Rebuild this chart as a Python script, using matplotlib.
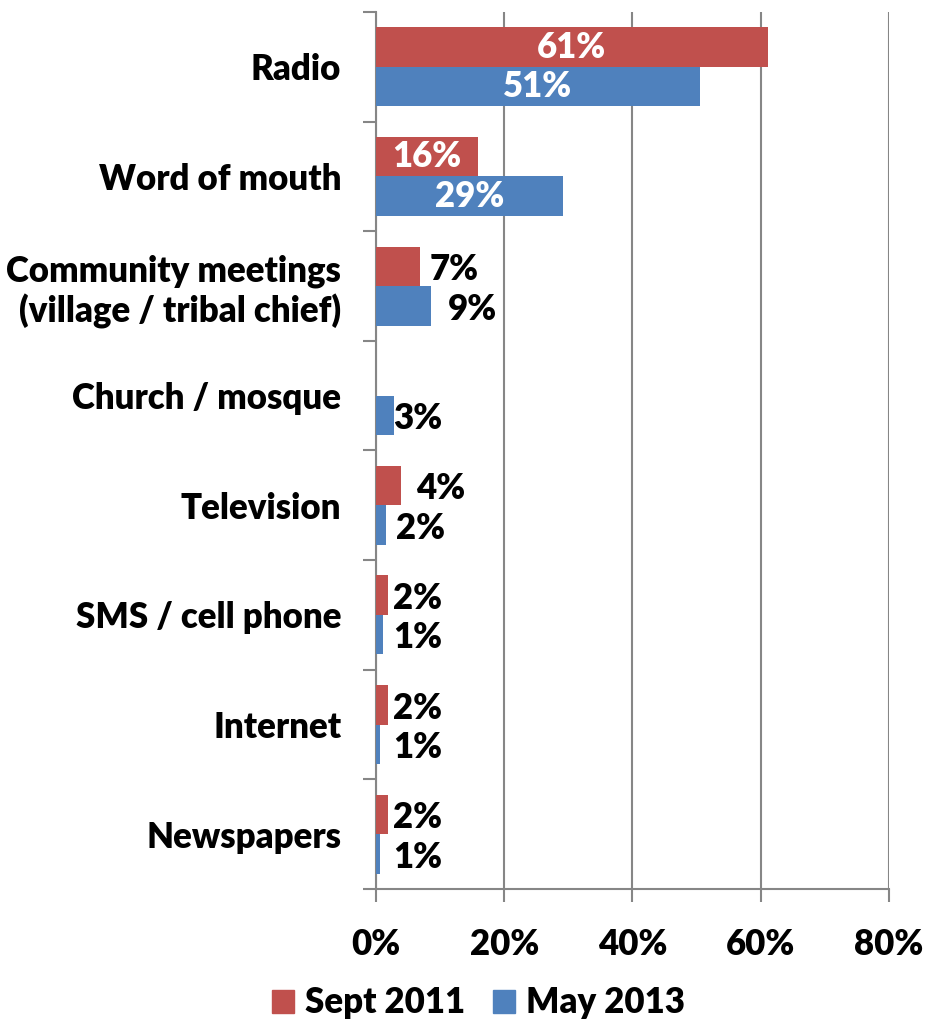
import matplotlib.pyplot as plt
import numpy as np
from matplotlib.patches import Patch
from matplotlib.ticker import FixedLocator, PercentFormatter

# 数据
categories = ["Radio", "Word of mouth", "Community meetings\n(village / tribal chief)",
              "Church / mosque", "Television", "SMS / cell phone", "Internet", "Newspapers"]
sept2011 = [61.1, 15.9, 6.9, 0.0, 3.9, 1.9, 1.9, 1.9]
may2013 = [50.5, 29.2, 8.6, 2.8, 1.6, 1.1, 0.6, 0.6]
sept_labels = ["61%", "16%", "7%", "", "4%", "2%", "2%", "2%"]
may_labels = ["51%", "29%", "9%", "3%", "2%", "1%", "1%", "1%"]
series_names = ["Sept 2011", "May 2013"]

red = "#C0504D"
blue = "#4F81BD"
grey = "#868686"
plt.rcParams['font.family'] = ['Lato', 'DejaVu Sans']
fs = 25
fw = 'heavy'

fig = plt.figure(figsize=(9.27, 10.23), dpi=100)
ax = fig.add_axes([0.4056, 0.131, 0.959 - 0.4056, 0.9883 - 0.131])

y = np.arange(len(categories))
h = 0.36
ax.barh(y - h / 2, sept2011, height=h, color=red, zorder=3)
ax.barh(y + h / 2, may2013, height=h, color=blue, zorder=3)

ax.set_xlim(0, 80)
ax.set_ylim(len(categories) - 0.5, -0.5)
ax.set_xticks(np.arange(0, 81, 20))
ax.xaxis.set_major_formatter(PercentFormatter(decimals=0))
ax.set_yticks(y)
ax.set_yticklabels(categories, fontsize=fs, fontweight=fw, linespacing=1.2)
ax.yaxis.set_minor_locator(FixedLocator(np.arange(-0.5, len(categories), 1)))
ax.tick_params(axis='y', which='major', length=0, pad=25)
ax.tick_params(axis='y', which='minor', length=9.5, width=1.5, color=grey, direction='out')
ax.tick_params(axis='x', which='major', length=9, width=1.5, color=grey, pad=19, labelsize=fs)
for t in ax.get_xticklabels():
    t.set_fontweight(fw)

ax.grid(axis='x', color=grey, linewidth=1.5, zorder=0)
for s in ['top', 'right']:
    ax.spines[s].set_visible(False)
for s in ['left', 'bottom']:
    ax.spines[s].set_color(grey)
    ax.spines[s].set_linewidth(1.5)

# 标签：大的放在条形内部居中，小的放在外面（偏移按像素估计）
sept_off = [0, 0, 9, 0, 15, 5, 5, 5]
may_off = [0, 0, 17, -1, 10, 10, 13, 13]
for i in range(len(categories)):
    for vals, labs, offs, dy in [(sept2011, sept_labels, sept_off, -h / 2),
                                 (may2013, may_labels, may_off, h / 2)]:
        if labs[i] == "":
            continue
        if vals[i] > 12:
            ax.text(vals[i] / 2, y[i] + dy, labs[i], ha='center', va='center',
                    color='white', fontsize=fs, fontweight=fw, zorder=4)
        else:
            ax.annotate(labs[i], (vals[i], y[i] + dy + 0.03), xytext=(offs[i] * 0.72, 0),
                        textcoords='offset points', ha='left', va='center',
                        color='black', fontsize=fs, fontweight=fw, zorder=4)

handles = [Patch(color=red, label=series_names[0]), Patch(color=blue, label=series_names[1])]
fig.legend(handles=handles, loc='center', bbox_to_anchor=(0.516, 0.0196), ncol=2,
           frameon=False, prop={'size': fs, 'weight': fw},
           handlelength=0.65, handleheight=0.65, handletextpad=0.3, columnspacing=0.8)

plt.savefig("out.png", dpi=100)
